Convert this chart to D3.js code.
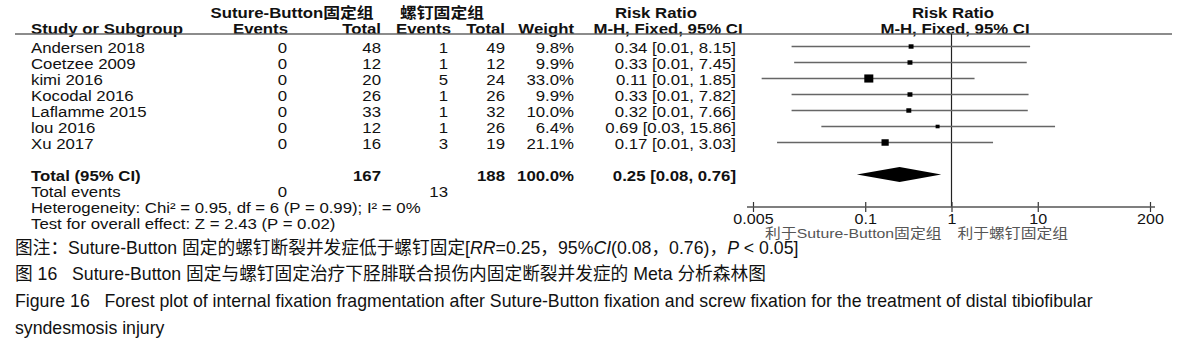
<!DOCTYPE html>
<html>
<head>
<meta charset="utf-8">
<script src="https://d3js.org/d3.v7.min.js"></script>
<style>
  body { margin: 0; background: #fff; }
  svg text { font-family: "Liberation Sans", Arial, "Noto Sans CJK SC", sans-serif; }
</style>
</head>
<body>
<div id="chart"></div>
<script>
// study rows
const studies = ["Andersen 2018", "Coetzee 2009", "kimi 2016", "Kocodal 2016", "Laflamme 2015", "lou 2016", "Xu 2017"]
const sbEvents = [0, 0, 0, 0, 0, 0, 0]
const sbTotal = [48, 12, 20, 26, 33, 12, 16]
const scEvents = [1, 1, 5, 1, 1, 1, 3]
const scTotal = [49, 12, 24, 26, 32, 26, 19]
const weights = [9.8, 9.9, 33.0, 9.9, 10.0, 6.4, 21.1]
const rr = [0.34, 0.33, 0.11, 0.33, 0.32, 0.69, 0.17]
const ciLow = [0.014, 0.015, 0.0063, 0.014, 0.014, 0.031, 0.0095]
const ciHigh = [8.15, 7.45, 1.85, 7.82, 7.66, 15.86, 3.03]

// pooled
const pooled = { sbTotal: 167, scTotal: 188, weight: 100.0, rr: 0.25, lo: 0.08, hi: 0.76, sbEvents: 0, scEvents: 13 }

const axisTicks = [0.005, 0.1, 1, 10, 200]
const favourLeft = "利于Suture-Button固定组"
const favourRight = "利于螺钉固定组"

const w = 1202, h = 352
const svg = d3.select("#chart").append("svg").attr("width", w).attr("height", h)
svg.append("rect").attr("width", w).attr("height", h).attr("fill", "#fff")

const fs = 15
const sx = 1.12   // the table text in the source is a bit wide
const rowY = i => 47.5 + i * 16
const totalY = rowY(8)

function txt(x, y, s, anchor, bold, size, stretch) {
    return svg.append("text")
        .attr("transform", `translate(${x},${y}) scale(${stretch || sx},1)`)
        .attr("dy", "0.36em")
        .attr("text-anchor", anchor || "start")
        .attr("font-weight", bold ? "bold" : "normal")
        .attr("font-size", size || fs)
        .attr("fill", "#111")
        .text(s)
}

// headers
txt(292, 13, "Suture-Button固定组", "middle", true)
txt(442, 13, "螺钉固定组", "middle", true)
txt(656, 13, "Risk Ratio", "middle", true)
txt(953, 13, "Risk Ratio", "middle", true)
txt(31, 29, "Study or Subgroup", "start", true)
txt(288, 29, "Events", "end", true)
txt(381, 29, "Total", "end", true)
txt(451, 29, "Events", "end", true)
txt(505, 29, "Total", "end", true)
txt(574, 29, "Weight", "end", true)
txt(668, 29, "M-H, Fixed, 95% CI", "middle", true)
txt(955, 29, "M-H, Fixed, 95% CI", "middle", true)

svg.append("line").attr("x1", 15).attr("x2", 1172).attr("y1", 34).attr("y2", 34)
    .attr("stroke", "#666").attr("stroke-width", 1.6)

// study rows text
studies.forEach((s, i) => {
    const y = rowY(i)
    txt(31, y, s)
    txt(287, y, sbEvents[i], "end")
    txt(381, y, sbTotal[i], "end")
    txt(448, y, scEvents[i], "end")
    txt(505, y, scTotal[i], "end")
    txt(574, y, weights[i].toFixed(1) + "%", "end")
    txt(736, y, `${rr[i].toFixed(2)} [${ciLow[i].toFixed(2)}, ${ciHigh[i].toFixed(2)}]`, "end")
})

// totals
txt(31, totalY, "Total (95% CI)", "start", true)
txt(381, totalY, pooled.sbTotal, "end", true)
txt(505, totalY, pooled.scTotal, "end", true)
txt(574, totalY, pooled.weight.toFixed(1) + "%", "end", true)
txt(736, totalY, `${pooled.rr.toFixed(2)} [${pooled.lo.toFixed(2)}, ${pooled.hi.toFixed(2)}]`, "end", true)
txt(31, rowY(9), "Total events")
txt(287, rowY(9), pooled.sbEvents, "end")
txt(448, rowY(9), pooled.scEvents, "end")
txt(31, rowY(10), "Heterogeneity: Chi² = 0.95, df = 6 (P = 0.99); I² = 0%")
txt(31, rowY(11), "Test for overall effect: Z = 2.43 (P = 0.02)")

// forest plot
const xScale = d3.scaleLog().domain([0.005, 200]).range([753, 1150])
const axisY = 207

svg.append("line").attr("x1", xScale(1)).attr("x2", xScale(1)).attr("y1", 34).attr("y2", axisY)
    .attr("stroke", "#222").attr("stroke-width", 1.2)

const g = svg.append("g")
studies.forEach((s, i) => {
    const y = rowY(i) - 1
    g.append("line").attr("x1", xScale(ciLow[i])).attr("x2", xScale(ciHigh[i]))
        .attr("y1", y).attr("y2", y).attr("stroke", "#666").attr("stroke-width", 1.5)
    const side = 1.57 * Math.sqrt(weights[i])
    g.append("rect").attr("x", xScale(rr[i]) - side / 2).attr("y", y - side * 0.45)
        .attr("width", side).attr("height", side * 0.9).attr("fill", "#000")
})

const dy = 7.5
g.append("path")
    .attr("d", `M${xScale(pooled.lo)},${totalY - 1} L${xScale(pooled.rr)},${totalY - 1 - dy} L${xScale(pooled.hi)},${totalY - 1} L${xScale(pooled.rr)},${totalY - 1 + dy} Z`)
    .attr("fill", "#000")

const xAxis = d3.axisBottom(xScale).tickValues(axisTicks).tickFormat(d => String(d)).tickSizeOuter(0)
const ax = svg.append("g").attr("transform", `translate(0,${axisY})`).call(xAxis)
ax.select(".domain").remove()
ax.selectAll(".tick line").attr("y1", -5).attr("y2", 5).attr("stroke", "#333").attr("stroke-width", 1.2)
ax.selectAll(".tick text").attr("y", 0).attr("dy", 0)
    .attr("transform", "translate(0,17) scale(1.15,1)")
    .attr("font-size", 14).attr("font-family", "Liberation Sans, Arial").attr("fill", "#111")
ax.append("line").attr("x1", xScale(0.005) - 6).attr("x2", xScale(200) + 5).attr("y1", 0).attr("y2", 0)
    .attr("stroke", "#555").attr("stroke-width", 1.5)

svg.append("text").attr("transform", `translate(${xScale(1) - 10},233) scale(1.17,1)`).attr("dy", "0.36em")
    .attr("text-anchor", "end").attr("font-size", 13.5).attr("fill", "#555").text(favourLeft)
svg.append("text").attr("transform", `translate(${xScale(1) + 6},233) scale(1.17,1)`).attr("dy", "0.36em")
    .attr("font-size", 13.5).attr("fill", "#555").text(favourRight)

// caption
const cap = svg.append("g").attr("font-size", 17.7).attr("fill", "#111")
const l1 = cap.append("text").attr("x", 15).attr("y", 254)
l1.append("tspan").text("图注：Suture-Button 固定的螺钉断裂并发症低于螺钉固定[")
l1.append("tspan").attr("font-style", "italic").text("RR")
l1.append("tspan").text("=0.25，95%")
l1.append("tspan").attr("font-style", "italic").text("CI")
l1.append("tspan").text("(0.08，0.76)，")
l1.append("tspan").attr("font-style", "italic").text("P")
l1.append("tspan").text(" < 0.05]")
cap.append("text").attr("x", 15).attr("y", 280).attr("xml:space", "preserve")
    .text("图 16   Suture-Button 固定与螺钉固定治疗下胫腓联合损伤内固定断裂并发症的 Meta 分析森林图")
cap.append("text").attr("x", 15).attr("y", 307).attr("xml:space", "preserve")
    .text("Figure 16   Forest plot of internal fixation fragmentation after Suture-Button fixation and screw fixation for the treatment of distal tibiofibular")
cap.append("text").attr("x", 15).attr("y", 334).text("syndesmosis injury")
</script>
</body>
</html>
